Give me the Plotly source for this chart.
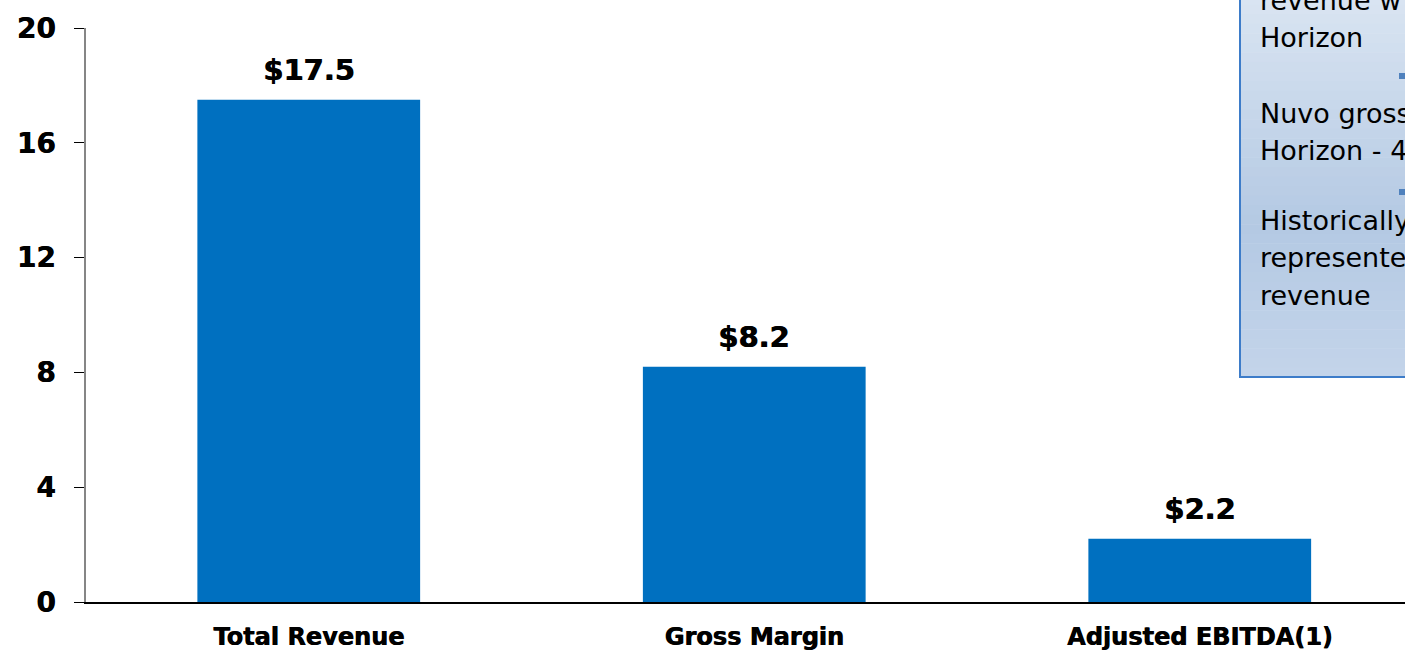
import plotly.graph_objects as go

categories = ["Total Revenue", "Gross Margin", "Adjusted EBITDA(1)"]
values = [17.5, 8.2, 2.2]
value_labels = ["$17.5", "$8.2", "$2.2"]
y_ticks = [0, 4, 8, 12, 16, 20]
box_lines = ["revenue w", "Horizon", "Nuvo gross", "Horizon - 4", "Historically", "represented", "revenue"]

W, H = 1405, 651
L, T, B = 86, 28, 49
PW, PH = W - L, H - T - B

def px(xp):
    return (xp - L) / PW

def py(yp):
    return (H - B - yp) / PH

heavy = "0.7px 0px 0px #000000"

fig = go.Figure()
fig.add_trace(go.Bar(
    x=categories, y=values, marker=dict(color="#0070c0", line=dict(width=0)),
    width=0.5, hoverinfo="skip"))

for c, v, t in zip(categories, values, value_labels):
    fig.add_annotation(x=c, y=v, text=t, showarrow=False, yanchor="bottom",
                       yshift=11, font=dict(family="DejaVu Sans", size=29, color="#000000",
                                            weight="bold", shadow=heavy))

# gradient text box (decoration)
def lerp(c1, c2, t):
    return tuple(round(a + (b - a) * t) for a, b in zip(c1, c2))

top_c, mid_c, bot_c = (0xda, 0xe5, 0xf2), (0xb4, 0xc9, 0xe3), (0xc3, 0xd4, 0xea)
y0p, y1p = -5, 377
n = 40
shapes = []
for i in range(n):
    a = y0p + (y1p - y0p) * i / n
    b = y0p + (y1p - y0p) * (i + 1) / n
    t = (i + 0.5) / n
    if t < 0.6:
        col = lerp(top_c, mid_c, t / 0.6)
    else:
        col = lerp(mid_c, bot_c, (t - 0.6) / 0.4)
    shapes.append(dict(type="rect", xref="paper", yref="paper",
                       x0=px(1240), x1=px(1430), y0=py(b + 0.5), y1=py(a),
                       fillcolor="rgb(%d,%d,%d)" % col, line=dict(width=0), layer="above"))
shapes.append(dict(type="rect", xref="paper", yref="paper",
                   x0=px(1240), x1=px(1430), y0=py(377), y1=py(-5),
                   fillcolor="rgba(0,0,0,0)", line=dict(color="#3d7cc9", width=2), layer="above"))
for yy in (76, 192):
    shapes.append(dict(type="rect", xref="paper", yref="paper",
                       x0=px(1399), x1=px(1410), y0=py(yy + 3), y1=py(yy - 3),
                       fillcolor="#4f81bd", line=dict(width=0), layer="above"))

baselines = [10, 47, 123, 160, 230, 267, 305]
for txt, bl in zip(box_lines, baselines):
    fig.add_annotation(xref="paper", yref="paper", x=px(1259), y=py(bl + 7),
                       xanchor="left", yanchor="bottom", text=txt, showarrow=False,
                       align="left", borderpad=0,
                       font=dict(family="DejaVu Sans", size=27, color="#000000"))

fig.update_layout(
    width=W, height=H, autosize=False,
    margin=dict(l=L, r=0, t=T, b=B, pad=0, autoexpand=False),
    plot_bgcolor="#ffffff", paper_bgcolor="#ffffff",
    showlegend=False, shapes=shapes, bargap=0.5,
    xaxis=dict(range=[-0.5, -0.5 + PW / 445.5], showgrid=False, zeroline=False,
               showline=True, linecolor="#000000", linewidth=1.5, ticks="",
               tickfont=dict(family="DejaVu Sans", size=24, color="#000000", weight="bold",
                             shadow=heavy),
               ticklabelstandoff=12, fixedrange=True, automargin=False),
    yaxis=dict(range=[0, 20], tickvals=y_ticks, showgrid=False, zeroline=False,
               showline=True, linecolor="#868686", linewidth=1.5,
               ticks="outside", ticklen=10, tickcolor="#000000", tickwidth=1,
               tickfont=dict(family="DejaVu Sans", size=28, color="#000000", weight="bold",
                             shadow=heavy),
               ticklabelstandoff=13, fixedrange=True, automargin=False),
)

fig.write_html("out.html", config={"displayModeBar": False},
               post_script="document.body.style.margin='0';document.body.style.overflow='hidden';")
